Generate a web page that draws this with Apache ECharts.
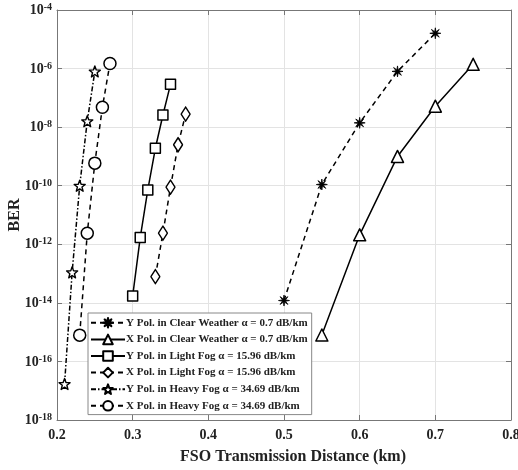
<!DOCTYPE html>
<html><head><meta charset="utf-8">
<script src="https://cdn.jsdelivr.net/npm/echarts@6/dist/echarts.min.js"></script>
<style>html,body{margin:0;padding:0;background:#fff}#c{width:518px;height:470px}</style>
</head><body><div id="c"></div>
<script>
// ---- data ----
const seriesNames = [
  'Y Pol. in Clear Weather \u03b1 = 0.7 dB/km',
  'X Pol. in Clear Weather \u03b1 = 0.7 dB/km',
  'Y Pol. in Light Fog \u03b1 = 15.96 dB/km',
  'X Pol. in Light Fog \u03b1 = 15.96 dB/km',
  'Y Pol. in Heavy Fog \u03b1 = 34.69 dB/km',
  'X Pol. in Heavy Fog \u03b1 = 34.69 dB/km'
];
const yClearX = [0.50, 0.55, 0.60, 0.65, 0.70];
const yClearBER = [1.2e-14, 1.1e-10, 1.4e-8, 8e-7, 1.6e-5];
const xClearX = [0.55, 0.60, 0.65, 0.70, 0.75];
const xClearBER = [8e-16, 2.1e-12, 1e-9, 5.2e-8, 1.4e-6];
const yLightX = [0.30, 0.31, 0.32, 0.33, 0.34, 0.35];
const yLightBER = [1.7e-14, 1.7e-12, 7.2e-11, 1.9e-9, 2.6e-8, 2.9e-7];
const xLightX = [0.33, 0.34, 0.35, 0.36, 0.37];
const xLightBER = [7.9e-14, 2.4e-12, 8.9e-11, 2.5e-9, 2.8e-8];
const yHeavyX = [0.21, 0.22, 0.23, 0.24, 0.25];
const yHeavyBER = [1.7e-17, 1.1e-13, 1e-10, 1.6e-8, 8e-7];
const xHeavyX = [0.23, 0.24, 0.25, 0.26, 0.27];
const xHeavyBER = [7.9e-16, 2.4e-12, 5.9e-10, 4.8e-8, 1.5e-6];
const xTicks = [0.2, 0.3, 0.4, 0.5, 0.6, 0.7, 0.8];

// ---- symbols ----
function starPath(n, R, r) {
  let s = '';
  for (let i = 0; i < 2 * n; i++) {
    const a = -Math.PI / 2 + i * Math.PI / n;
    const rad = i % 2 === 0 ? R : r;
    const x = (rad * Math.cos(a)).toFixed(3), y = (rad * Math.sin(a)).toFixed(3);
    s += (i === 0 ? 'M' : 'L') + x + ',' + y;
  }
  return 'path://' + s + 'Z';
}
const asteriskSym = starPath(8, 10, 3.0);
const pentaSym = starPath(5, 10, 4.2);

const pair = (xs, ys) => xs.map((x, i) => [x, ys[i]]);
const font = 'Liberation Serif';

const defs = [
  {d: pair(yClearX, yClearBER), sym: asteriskSym, size: 11, line: [5, 4], fill: '#000', bw: 0.8},
  {d: pair(xClearX, xClearBER), sym: 'triangle', size: 12, line: 'solid', fill: '#fff', bw: 1.5},
  {d: pair(yLightX, yLightBER), sym: 'rect', size: 10, line: 'solid', fill: '#fff', bw: 1.5},
  {d: pair(xLightX, xLightBER), sym: 'diamond', size: [9, 14], line: [5, 4], fill: '#fff', bw: 1.5},
  {d: pair(yHeavyX, yHeavyBER), sym: pentaSym, size: 11, line: [5, 2, 1.5, 2], fill: '#fff', bw: 1.4},
  {d: pair(xHeavyX, xHeavyBER), sym: 'circle', size: 12, line: [5, 4], fill: '#fff', bw: 1.5}
];

const series = defs.map((s, i) => ({
  name: seriesNames[i], type: 'line', data: s.d,
  symbol: s.sym, symbolSize: s.size, showSymbol: true,
  lineStyle: {color: '#000', width: 1.5, type: s.line},
  itemStyle: {color: s.fill, borderColor: '#000', borderWidth: s.bw, borderJoin: 'round'},
  emphasis: {disabled: true}, animation: false, z: 3
}));

const supFmt = v => {
  const e = Math.round(Math.log10(v));
  return '{b|10}{s|' + e + '}';
};

const axisCol = '#777';
const chart = echarts.init(document.getElementById('c'), null, {renderer: 'canvas'});
chart.setOption({
  backgroundColor: '#fff',
  animation: false,
  grid: {left: 57, right: 7, top: 10, bottom: 50, containLabel: false, outerBoundsMode: 'none'},
  xAxis: [{
    type: 'value', min: 0.2, max: 0.8, interval: 0.1,
    name: 'FSO Transmission Distance (km)', nameLocation: 'middle', nameGap: 29,
    nameTextStyle: {fontFamily: font, fontWeight: 'bold', fontSize: 16, color: '#222', padding: [0, 0, 0, 18]},
    axisLine: {show: true, onZero: false, lineStyle: {color: axisCol, width: 1}},
    axisTick: {show: true, inside: true, length: 5, lineStyle: {color: axisCol}},
    axisLabel: {fontFamily: font, fontWeight: 'bold', fontSize: 14, color: '#222', margin: 8,
      formatter: v => v.toFixed(1)},
    splitLine: {show: true, lineStyle: {color: '#e3e3e3', width: 1}}
  }, {
    type: 'value', position: 'top', min: 0.2, max: 0.8, interval: 0.1,
    axisLine: {show: true, lineStyle: {color: axisCol}},
    axisTick: {show: true, inside: true, length: 5, lineStyle: {color: axisCol}},
    axisLabel: {show: false}, splitLine: {show: false}
  }],
  yAxis: [{
    type: 'log', logBase: 10, min: 1e-18, max: 1e-4, interval: 2,
    name: 'BER', nameLocation: 'middle', nameGap: 34, nameRotate: 90, nameMoveOverlap: false,
    nameTextStyle: {fontFamily: font, fontWeight: 'bold', fontSize: 16, color: '#222'},
    axisLine: {show: true, onZero: false, lineStyle: {color: axisCol}},
    axisTick: {show: true, inside: true, length: 5, lineStyle: {color: axisCol}},
    minorTick: {show: false},
    axisLabel: {formatter: supFmt, margin: 5,
      rich: {
        b: {fontFamily: font, fontWeight: 'bold', fontSize: 14, color: '#222', verticalAlign: 'bottom', lineHeight: 15},
        s: {fontFamily: font, fontWeight: 'bold', fontSize: 10, color: '#222', verticalAlign: 'top', padding: [0, 0, 9, 0], lineHeight: 15}
      }},
    splitLine: {show: true, lineStyle: {color: '#e3e3e3', width: 1}}
  }, {
    type: 'log', logBase: 10, min: 1e-18, max: 1e-4, interval: 2, position: 'right',
    axisLine: {show: true, lineStyle: {color: axisCol}},
    axisTick: {show: true, inside: true, length: 5, lineStyle: {color: axisCol}},
    axisLabel: {show: false}, splitLine: {show: false}
  }],
  legend: {
    orient: 'vertical', left: 88, top: 313, itemGap: 5, itemWidth: 34, itemHeight: 12,
    padding: [4, 4, 3, 2],
    backgroundColor: '#fff', borderColor: '#888', borderWidth: 1,
    textStyle: {fontFamily: font, fontWeight: 'bold', fontSize: 11, color: '#222', padding: [0, 0, 0, -4]},
    data: seriesNames
  },
  series: series
});
</script></body></html>
